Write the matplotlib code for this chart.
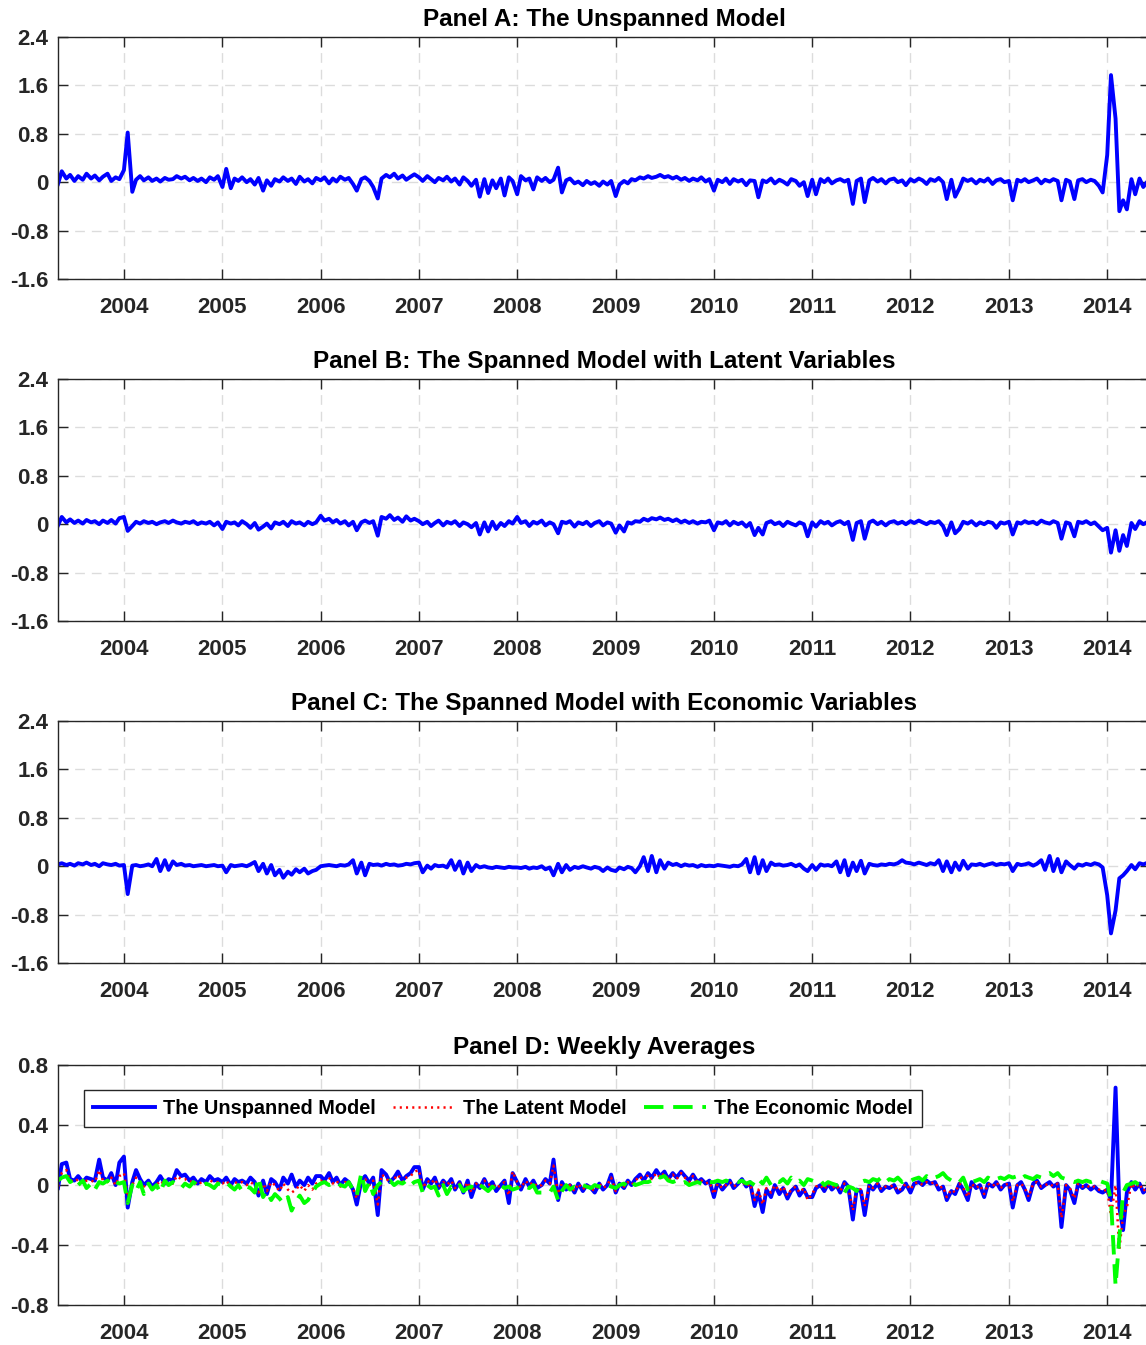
import numpy as np
import pandas as pd
import matplotlib
matplotlib.use("Agg")
import matplotlib.pyplot as plt
import matplotlib.dates as mdates

plt.rcParams['font.family'] = ['Liberation Sans', 'DejaVu Sans']
plt.rcParams['font.weight'] = 'bold'
plt.rcParams['axes.unicode_minus'] = False
plt.rcParams['lines.scale_dashes'] = False

# semi-monthly sampling dates (1st and 15th), May 2003 - Jun 2014
dates = pd.date_range('2003-05-01', '2014-06-01', freq='SMS')

# values in hundredths, one row per year (2003 starts in May, 2014 ends in June)
panel_a = [
    -3, 18, 6, 12, 2, 10, 4, 14, 6, 11, 3, 9, 14, 2, 8, 5,
    20, 82, -16, 4, 10, 3, 8, 2, 6, 1, 7, 4, 5, 10, 6, 9, 3, 7, 2, 6, 0, 8, 4, 10,
    -8, 22, -10, 6, 2, 8, 0, 5, -4, 7, -14, 3, -6, 5, 1, 8, 2, 6, -3, 9, 1, 5, -2, 7,
    3, 8, -2, 6, 1, 9, 4, 7, -3, -14, 5, 8, 2, -8, -27, 6, 12, 8, 14, 6, 11, 4, 9, 13,
    8, 2, 10, 5, 0, 7, 3, 9, 1, 6, -4, 8, 2, -6, 4, -24, 5, -18, 3, -10, 6, -22, 8, 2,
    -20, 10, 3, 6, -12, 8, 2, 7, 0, 4, 24, -17, 3, 6, -2, 1, -5, 2, -3, 0, -6, 1, -4, 2,
    -23, -4, 2, -2, 5, 3, 8, 6, 10, 7, 9, 12, 8, 10, 6, 9, 4, 7, 2, 6, 3, 8, 1, 5,
    -14, 4, 0, 6, -3, 5, 1, 4, -5, 3, 2, -25, 3, 0, 6, -2, 4, 1, -4, 5, 2, -6, 0, -23,
    4, -20, 5, 0, 6, -2, 3, 5, 1, 4, -36, 2, 6, -33, 3, 7, 1, 5, -2, 4, 6, 0, 3, -5,
    5, 1, 6, 3, -3, 5, 2, 7, 0, -28, 4, -24, -10, 6, 2, 5, -2, 4, 1, 6, -3, 3, 5, 0,
    2, -30, 4, 1, 5, 0, 3, 6, -2, 4, 1, 5, 2, -30, 4, 1, -28, 3, 5, 0, 4, 2, -6, -17,
    45, 177, 105, -48, -30, -45, 5, -20, 6, -8, 2,
]

panel_b = [
    -2, 12, 3, 8, 2, 6, 1, 7, 3, 5, 0, 6, 2, 7, 1, 10,
    12, -11, -3, 4, 1, 5, 2, 4, 0, 3, 5, 2, 6, 3, 1, 4, 2, 5, 0, 3, 1, 4, -2, 3,
    -8, 4, 1, 3, -2, 5, 0, -6, 2, -9, -4, 1, -7, 3, 0, 4, -3, 5, 1, 3, -2, 4, 0, 3,
    14, 6, 9, 3, 7, 1, 5, -2, 4, -10, 3, 6, 2, 5, -19, 12, 9, 15, 7, 11, 4, 13, 6, 9,
    5, 0, 4, -3, 2, 6, -2, 4, 1, 5, -3, 3, 0, -5, 2, -17, 3, -12, 4, -8, 2, -3, 5, 1,
    12, 2, 5, -3, 4, 1, 6, -2, 3, 0, -15, 4, 2, 5, -4, 3, 0, 4, -3, 2, 5, -2, 3, 1,
    -14, -2, -12, 3, 1, 5, 4, 9, 6, 10, 8, 11, 7, 9, 5, 8, 3, 6, 2, 5, 1, 4, 3, 6,
    -10, 3, 1, 5, -2, 4, 0, 3, -4, 2, -18, -6, -17, 2, 5, 0, 3, -3, 4, 1, -2, 3, 0, -20,
    3, -4, 5, 1, 4, -2, 3, 5, 0, 4, -26, 2, 5, -24, 3, 6, 0, 4, -2, 3, 5, 1, 4, 0,
    5, 2, 6, 3, 0, 4, 2, 5, -3, -18, 3, -15, -8, 4, 1, 5, -2, 3, 0, 4, 2, -6, 3, 1,
    4, -17, 3, 1, 5, 2, 4, 0, 6, 3, 1, 5, 2, -24, 3, 1, -20, 4, 2, 5, 0, 3, -4, -10,
    -6, -47, -10, -44, -18, -36, 2, -8, 5, 0, 4,
]

panel_c = [
    3, 5, 2, 4, 1, 5, 3, 6, 2, 4, 0, 5, 3, 2, 4, 1,
    2, -46, 1, 2, 0, 1, 3, 0, 12, -8, 10, -6, 8, 2, 4, 1, 2, 0, 1, 2, 0, 1, 2, 0,
    1, -10, 2, 0, 1, 2, 0, 3, 7, -8, 4, -12, 2, -15, -6, -19, -9, -14, -5, -10, -4, -12, -8, -6,
    0, 1, 2, 1, 0, 2, 1, 3, 10, -12, 6, -15, 4, 2, 3, 1, 4, 2, 3, 1, 2, 4, 3, 5,
    6, -10, 1, -4, 2, 0, 1, -2, 10, -6, 8, -12, 6, -8, 2, -2, 0, -2, -3, -1, -2, -3, -1, -2,
    -2, -3, -1, -4, -2, -3, 0, -5, -2, -15, 4, -10, 2, -6, -1, -3, 0, -2, -4, -1, -3, -8, -2, -6,
    -8, -2, -5, -1, -3, -10, 0, 15, -8, 17, -10, 10, -4, 6, 2, 4, 0, 3, 1, 2, -1, 2, 0, 1,
    0, 2, 1, 0, -1, 1, 0, 3, 12, -10, 15, -12, 10, -8, 6, 2, 3, 1, 2, 4, 0, 3, -4, -8,
    2, -6, 3, 1, 2, 0, 8, -10, 10, -15, 6, -8, 9, -12, 4, 2, 1, 3, 2, 4, 3, 5, 10, 6,
    5, 3, 6, 4, 2, 5, 3, 10, -8, 8, -10, 6, -6, 9, -4, 3, 2, 4, 1, 3, 5, 2, 4, 3,
    5, -8, 4, 2, 3, 5, 1, 4, 10, -6, 17, -8, 12, -10, 8, 2, -4, 3, 1, 4, 2, 5, 3, -2,
    -48, -111, -73, -20, -15, -8, 2, -5, 5, 3, 6,
]

# Panel D: weekly averages
weekly_unspanned = [
    -2, 14, 15, 4, 3, 6, 2, 5, 4, 3, 17, 5, 3, 8, 0, 15,
    19, -15, 2, 10, 4, 0, 3, -1, 2, 6, 1, 4, 3, 10, 6, 7, 3, 5, 1, 4, 2, 6, 3, 4,
    2, 5, 0, 4, 2, 3, 1, 5, 2, -7, 3, -6, 4, 2, -3, 5, 1, 7, -1, 3, 0, 5, 1, 6,
    6, 3, 8, 2, 5, 0, 4, 2, -3, -13, 3, 6, 1, 5, -20, 10, 7, 2, 5, 9, 3, 6, 8, 12,
    12, -3, 4, 1, 5, -2, 3, 0, 4, -3, 2, -5, 3, -8, 1, -2, 4, -1, 2, -4, 0, 3, -12, 8,
    2, -3, 4, -1, 3, -2, 0, 4, 1, 17, -10, 2, -3, 0, -5, 1, -4, 0, -2, -5, 1, -3, 0, 7,
    -5, 1, -2, 3, 0, 4, 7, 3, 8, 5, 10, 6, 9, 4, 8, 5, 9, 6, 3, 7, 2, 4, 1, 3,
    -8, 2, -3, 0, 3, -2, 1, 4, -1, 2, -14, -5, -18, -3, -8, 0, -6, -2, -9, -4, -1, -7, -3, -8,
    -8, -2, 0, -4, 1, -3, 0, -5, 2, -1, -23, -3, -4, -20, 0, -3, 1, -4, -1, -2, 0, -5, -3, 1,
    -5, 1, 2, 0, 3, 1, 2, -3, -1, -10, -4, -6, 1, -3, -10, 2, -2, 0, -8, 1, -1, 2, -3, 0,
    1, -15, 0, 2, -3, -10, 1, 3, -2, 0, 2, -1, 1, -28, 0, -3, -12, 1, -2, 0, -3, -1, -4, -5,
    -3, -10, 65, -15, -30, -5, 2, -3, 1, -5, -2,
]

weekly_latent = [
    -1, 8, 10, 3, 2, 4, 1, 3, 3, 2, 10, 3, 2, 5, 0, 6,
    8, -8, 0, 5, 2, -1, 1, -2, 0, 3, 0, 2, 1, 6, 4, 4, 2, 3, 0, 2, 1, 3, 2, 2,
    1, 3, -1, 2, 1, 2, 0, 2, 0, -5, 1, -4, 2, 0, -4, 1, -3, -5, -3, 0, -4, 0, -3, 1,
    3, 1, 5, 1, 3, -1, 2, 1, -2, -9, 2, 4, 0, 3, -13, 7, 5, 1, 4, 7, 2, 5, 6, 9,
    10, -2, 3, 1, 4, -1, 2, 0, 3, -2, 1, -3, 2, -5, 1, -1, 3, 0, 1, -2, 0, 2, -7, 9,
    2, -2, 3, 0, 2, -1, 0, 3, 1, 13, -6, 1, -2, 0, -4, 1, -3, 0, -2, -4, 1, -2, 0, 5,
    -4, 0, -1, 2, 0, 3, 6, 2, 7, 4, 8, 5, 8, 3, 7, 4, 8, 5, 2, 6, 2, 3, 1, 2,
    -6, 1, -2, 0, 2, -1, 1, 3, -1, 1, -10, -3, -13, -2, -5, 0, -4, -1, -7, -3, -1, -5, -2, -10,
    -6, -1, 0, -3, 1, -2, 0, -4, 1, -1, -17, -2, -3, -14, 0, -2, 1, -3, -1, -1, 0, -4, -2, 1,
    -3, 1, 2, 0, 2, 1, 2, -2, -1, -8, -3, -5, 1, -2, -8, 1, -2, 0, -6, 1, -1, 2, -2, 0,
    1, -11, 0, 1, -2, -8, 1, 2, -1, 0, 1, -1, 1, -22, 0, -2, -9, 1, -1, 0, -2, -1, -3, -4,
    -3, -20, 0, -43, -20, -15, 1, -2, 1, -4, -1,
]

weekly_economic = [
    3, 5, 6, 2, 4, 0, 3, -2, 1, -3, 2, 1, 3, 0, 2, 1,
    2, -12, 0, -4, 2, -6, 1, -3, 0, -5, 3, 0, 2, 0, -2, 1, -1, 2, 0, -1, 1, 0, -2, 1,
    0, 2, -1, -3, 0, -4, -1, -2, -5, 5, -8, -4, -10, -6, -9, -12, -8, -17, -11, -7, -12, -10, -5, -1,
    1, 2, 0, 1, 2, 0, -1, 2, -3, -7, 8, -4, 2, -6, 0, 2, 1, 3, 0, 2, 1, 3, 0, 2,
    3, -5, 0, -2, -1, -7, 0, -6, -1, -3, 0, -4, -2, -1, -3, 0, -2, -4, -1, -3, 0, -2, -1, -3,
    -2, 0, -1, -2, 0, -5, -5, -5, -5, -1, -10, -4, 0, -3, -1, -2, 0, -1, -2, 0, -1, -2, 0, -1,
    -2, 0, 1, -1, 2, 0, 1, 2, 2, 3, 6, 5, 6, 3, 2, 3, 1, 2, 0, 1, 2, 1, 0, 2,
    2, 3, 2, 3, 2, 3, 2, 3, 1, 2, 0, 4, 1, 5, 0, 3, 2, 4, 1, 5, 2, 3, 0, 4,
    3, 2, 3, 0, 2, 1, 0, -3, -5, -1, -2, -4, 2, 3, 2, 4, 3, 5, 2, 4, 3, 5, 2, 4,
    3, 4, 5, 3, 6, 4, 5, 6, 8, 5, 3, 4, 2, 5, -3, 2, 3, 4, 2, 5, 3, 4, 5, 4,
    6, 5, 6, 4, 6, 5, 4, 6, 5, 7, 8, 6, 8, 5, 4, 3, 2, 3, 2, 3, 2, 3, 3, 2,
    1, -10, -67, -35, -5, 0, 1, 2, 0, 3, 2,
]

titles = ['Panel A: The Unspanned Model',
          'Panel B: The Spanned Model with Latent Variables',
          'Panel C: The Spanned Model with Economic Variables',
          'Panel D: Weekly Averages']
legend_labels = ['The Unspanned Model', 'The Latent Model', 'The Economic Model']

for s in [panel_a, panel_b, panel_c, weekly_unspanned, weekly_latent, weekly_economic]:
    assert len(s) == len(dates), len(s)

DARK = '#262626'


def style_axes(ax, ticks, labels):
    ax.set_xlim(pd.Timestamp('2003-05-01'), pd.Timestamp('2014-06-09'))
    ax.xaxis.set_major_locator(mdates.YearLocator())
    ax.xaxis.set_major_formatter(mdates.DateFormatter('%Y'))
    ax.set_ylim(ticks[0], ticks[-1])
    ax.set_yticks(ticks)
    ax.set_yticklabels(labels)
    ax.tick_params(direction='in', length=7, width=1, top=True, right=True,
                   labelsize=16, colors=DARK)
    ax.tick_params(axis='x', pad=13)
    ax.tick_params(axis='y', pad=7)
    ax.grid(True, color='#dcdcdc', linestyle=(0, (7, 5)), linewidth=1)
    ax.set_axisbelow(True)
    for sp in ax.spines.values():
        sp.set_color(DARK)
        sp.set_linewidth(1)


fig = plt.figure(figsize=(11.46, 13.45), dpi=100)

left, width = 0.0506, 0.9529
bottoms = [0.7926, 0.5383, 0.2840]
big_ticks = [-1.6, -0.8, 0, 0.8, 1.6, 2.4]
big_labels = ['-1.6', '-0.8', '0', '0.8', '1.6', '2.4']

for i, series in enumerate([panel_a, panel_b, panel_c]):
    ax = fig.add_axes([left, bottoms[i], width, 0.1799])
    ax.plot(dates, np.array(series) / 100, color='#0000ff', lw=2.8,
            solid_joinstyle='round')
    style_axes(ax, big_ticks, big_labels)
    ax.set_title(titles[i], fontsize=17.5, fontweight='bold', pad=8)

ax = fig.add_axes([left, 0.0297, width, 0.1784])
h1, = ax.plot(dates, np.array(weekly_unspanned) / 100, color='#0000ff', lw=2.8,
              solid_joinstyle='round')
h2, = ax.plot(dates, np.array(weekly_latent) / 100, color='#ff0000', lw=1.8,
              linestyle=(0, (1.5, 3)))
h3, = ax.plot(dates, np.array(weekly_economic) / 100, color='#00ff00', lw=2.8,
              linestyle=(0, (14, 7)))
style_axes(ax, [-0.8, -0.4, 0, 0.4, 0.8], ['-0.8', '-0.4', '0', '0.4', '0.8'])
ax.set_title(titles[3], fontsize=17.5, fontweight='bold', pad=8)
leg = ax.legend([h1, h2, h3], legend_labels, loc='upper left',
                bbox_to_anchor=(0.024, 0.896), ncol=3, fontsize=14.3,
                fancybox=False, framealpha=1, edgecolor=DARK,
                handlelength=3.1, handletextpad=0.4, columnspacing=0.9,
                borderpad=0.45, borderaxespad=0)
leg.get_frame().set_linewidth(1)

fig.savefig('out.png', dpi=100)
